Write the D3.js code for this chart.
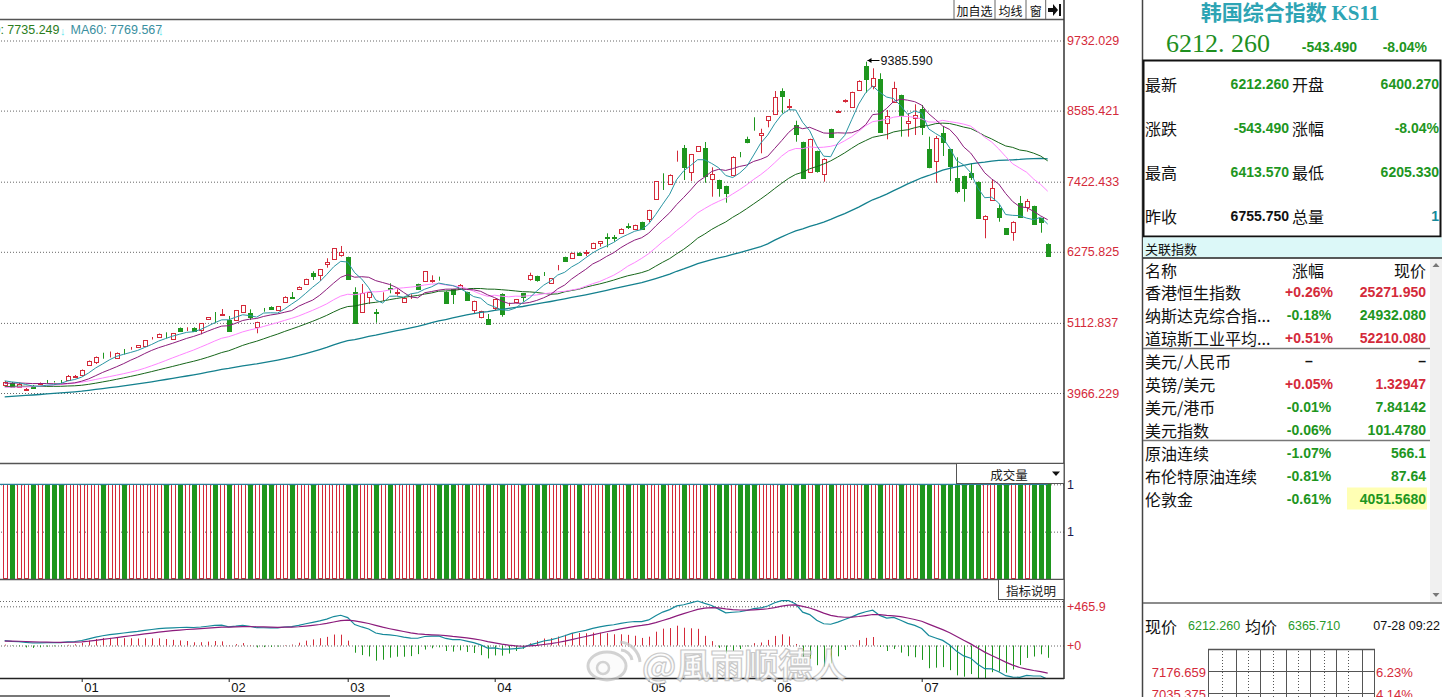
<!DOCTYPE html>
<html>
<head>
<meta charset="utf-8">
<script src="https://cdn.jsdelivr.net/npm/d3@7"></script>
<style>
body { margin: 0; background: #fff; }
svg { display: block; }
text { font-family: "Liberation Sans", Arial, sans-serif; }
.cjk { font-family: "Noto Sans CJK SC", sans-serif; }
.axis .domain { display: none; }
</style>
</head>
<body>
<svg width="1442" height="697"></svg>
<script>
// **** Data ****

// closes before the visible window (only used to warm up MA / MACD)
var priorCloses = [3585, 3602, 3590, 3618, 3640, 3625, 3652, 3668, 3660, 3685,
    3700, 3692, 3715, 3730, 3722, 3745, 3760, 3748, 3772, 3790,
    3785, 3805, 3820, 3812, 3835, 3850, 3842, 3868, 3880, 3875,
    3940, 4010, 4065, 4100, 4130, 4150, 4120, 4135, 4110, 4140,
    4080, 4030, 3990, 3960, 3975, 3940, 3955, 3990, 4010, 4020,
    4050, 4070, 4080, 4105, 4120, 4150, 4175, 4185, 4169];

var opens = [4097, 4130, 4064, 4015, 4081, 4113, 4154, 4154, 4154, 4179,
    4236, 4261, 4424, 4473, 4588, 4580, 4544, 4661, 4702, 4714,
    4740, 4858, 4877, 4923, 4845, 5029, 5008, 5034, 4997, 5177,
    5280, 5242, 5160, 5155, 5291, 5270, 5051, 5329, 5378, 5319,
    5460, 5532, 5667, 5744, 5934, 5891, 6071, 6158, 6223, 6186,
    5618, 5286, 5532, 5291, 5564, 5684, 5602, 5450, 5545, 5749,
    5803, 5798, 5839, 5623, 5662, 5662, 5618, 5324, 5214, 5177,
    5361, 5590, 5417, 5455, 5597, 5836, 5880, 5918, 5770, 6006,
    6191, 6174, 6261, 6256, 6343, 6425, 6518, 6518, 6578, 6690,
    6654, 6763, 6807, 7135, 7537, 7385, 7838, 7969, 7576, 7920,
    7969, 7472, 7450, 7352, 7527, 7892, 8116, 8273, 8191, 8427,
    8525, 8906, 8644, 8345, 8072, 7586, 7925, 7553, 8285, 8567,
    8742, 8649, 8918, 9315, 8993, 9097, 8388, 8731, 8841, 8378,
    8460, 8607, 7952, 7766, 8214, 7952, 7478, 7516, 7570, 7423,
    6807, 7123, 6997, 6660, 6595, 7069, 7004, 7025, 6824, 6400.27];

var highs = [4162, 4146, 4130, 4048, 4097, 4138, 4179, 4162, 4179, 4261,
    4261, 4351, 4498, 4563, 4625, 4645, 4629, 4686, 4719, 4751,
    4833, 4882, 4939, 4959, 4948, 5038, 5041, 5041, 5111, 5209,
    5291, 5340, 5226, 5324, 5406, 5335, 5132, 5357, 5384, 5389,
    5548, 5618, 5711, 5836, 5957, 5995, 6170, 6338, 6371, 6196,
    5695, 5749, 5618, 5340, 5613, 5761, 5662, 5532, 5581, 5754,
    5962, 5891, 5869, 5630, 5667, 5749, 5623, 5476, 5312, 5258,
    5509, 5597, 5443, 5504, 5602, 5934, 5885, 5945, 5847, 6060,
    6196, 6261, 6268, 6305, 6425, 6452, 6578, 6551, 6660, 6742,
    6719, 6768, 6964, 7434, 7560, 7543, 7930, 8023, 7876, 8006,
    8072, 7658, 7455, 7357, 7838, 7908, 8159, 8476, 8289, 8497,
    8906, 8950, 8775, 8420, 8077, 8126, 7930, 7805, 8289, 8595,
    8770, 8895, 9081, 9385.59, 9277, 9196, 8595, 9058, 8846, 8541,
    8689, 8677, 8159, 8170, 8334, 7957, 7822, 7521, 7723, 7429,
    6873, 7450, 7041, 6665, 6775, 7189, 7140, 7030, 6829, 6413.57];

var lows = [4081, 4048, 4048, 4007, 4032, 4105, 4130, 4138, 4130, 4171,
    4228, 4252, 4408, 4441, 4527, 4547, 4539, 4596, 4674, 4710,
    4735, 4841, 4874, 4861, 4841, 4980, 4980, 4975, 4926, 5172,
    5106, 5226, 4980, 5149, 5286, 5160, 4943, 5296, 5335, 5312,
    5455, 5509, 5662, 5738, 5815, 5798, 6016, 6153, 6196, 5819,
    5106, 5280, 5422, 5116, 5471, 5597, 5558, 5443, 5504, 5667,
    5798, 5770, 5803, 5422, 5422, 5656, 5487, 5258, 5188, 5083,
    5324, 5214, 5389, 5450, 5460, 5803, 5787, 5880, 5765, 5973,
    6120, 6170, 6219, 6207, 6338, 6359, 6349, 6441, 6572, 6649,
    6649, 6637, 6763, 7128, 7287, 7380, 7750, 7450, 7434, 7913,
    7406, 7177, 7177, 7079, 7521, 7822, 8051, 8257, 7887, 8312,
    8518, 8541, 8595, 8077, 7472, 7581, 7570, 7423, 8154, 8551,
    8715, 8644, 8911, 8878, 8934, 8235, 8116, 8726, 8159, 8159,
    8186, 8186, 7642, 7406, 7843, 7434, 7233, 7095, 7450, 6829,
    6497, 7118, 6768, 6556, 6457, 6834, 6932, 6719, 6588, 6205.33];

var closes = [4146, 4064, 4113, 4032, 4048, 4130, 4146, 4146, 4146, 4252,
    4244, 4342, 4490, 4555, 4580, 4588, 4620, 4653, 4710, 4746,
    4828, 4866, 4931, 4915, 4943, 4985, 5018, 4980, 5106, 5204,
    5270, 5254, 4985, 5319, 5401, 5204, 5128, 5319, 5340, 5384,
    5541, 5523, 5705, 5831, 5885, 5990, 6114, 6333, 6277, 5826,
    5116, 5607, 5613, 5280, 5574, 5672, 5613, 5525, 5553, 5672,
    5957, 5810, 5831, 5438, 5586, 5728, 5492, 5471, 5307, 5090,
    5504, 5263, 5427, 5499, 5532, 5896, 5815, 5908, 5842, 6016,
    6125, 6256, 6223, 6268, 6420, 6448, 6506, 6506, 6654, 6682,
    6714, 6644, 6960, 7429, 7527, 7527, 7848, 7668, 7871, 8001,
    7516, 7548, 7315, 7243, 7831, 7884, 8072, 8263, 8214, 8492,
    8803, 8829, 8656, 8198, 7478, 8121, 7602, 7799, 8159, 8579,
    8754, 8890, 9075, 9097, 9124, 8240, 8497, 8950, 8513, 8415,
    8513, 8322, 7668, 8132, 8077, 7679, 7275, 7324, 7504, 6834,
    6866, 7315, 6850, 6562, 6768, 6840, 7112, 6726, 6755.75, 6212.26];

// index volume is shown as 1 every day
var volumes = [1, 1, 1, 1, 1, 1, 1, 1, 1, 1, 1, 1, 1, 1, 1, 1, 1, 1, 1, 1, 1, 1, 1, 1, 1,
    1, 1, 1, 1, 1, 1, 1, 1, 1, 1, 1, 1, 1, 1, 1, 1, 1, 1, 1, 1, 1, 1, 1, 1, 1,
    1, 1, 1, 1, 1, 1, 1, 1, 1, 1, 1, 1, 1, 1, 1, 1, 1, 1, 1, 1, 1, 1, 1, 1, 1,
    1, 1, 1, 1, 1, 1, 1, 1, 1, 1, 1, 1, 1, 1, 1, 1, 1, 1, 1, 1, 1, 1, 1, 1, 1,
    1, 1, 1, 1, 1, 1, 1, 1, 1, 1, 1, 1, 1, 1, 1, 1, 1, 1, 1, 1, 1, 1, 1, 1, 1,
    1, 1, 1, 1, 1, 1, 1, 1, 1, 1, 1, 1, 1, 1, 1, 1, 1, 1, 1, 1, 1, 1, 1, 1, 1];

var priceTicks = [9732.029, 8585.421, 7422.433, 6275.825, 5112.837, 3966.229];
var priceDomain = [3966.229, 9732.029];
var monthIdx = [11, 32, 49, 70, 92, 110, 131];
var monthLabels = ['01', '02', '03', '04', '05', '06', '07'];
var maPeriods = [60, 30, 20, 10, 5];
var maLegend = ['MA30: 7735.249', 'MA60: 7769.567'];
var volTicks = [1, 0.5];
var volTickLabels = ['1', '1'];
var macdTicks = [465.9, 0];
var macdTop = 530;

var quoteNames = ['最新', '涨跌', '最高', '昨收'];
var quoteVals = ['6212.260', '-543.490', '6413.570', '6755.750'];
var quoteNames2 = ['开盘', '涨幅', '最低', '总量'];
var quoteVals2 = ['6400.270', '-8.04%', '6205.330', '1'];
var avgPrice = '6365.710';
var quoteTime = '07-28 09:22';

var relNames = ['香港恒生指数', '纳斯达克综合指...', '道琼斯工业平均...', '美元/人民币', '英镑/美元',
    '美元/港币', '美元指数', '原油连续', '布伦特原油连续', '伦敦金'];
var relChanges = ['+0.26%', '-0.18%', '+0.51%', '–', '+0.05%', '-0.01%', '-0.06%', '-1.07%', '-0.81%', '-0.61%'];
var relPrices = ['25271.950', '24932.080', '52210.080', '–', '1.32947', '7.84142', '101.4780', '566.1', '87.64', '4051.5680'];

var intradayPrices = ['7176.659', '7035.375'];
var intradayPcts = ['6.23%', '4.14%'];

// **** Colours ****
var RED = '#d42a3a', GREEN = '#1e961e', GRID = '#555';
var maColors = {5: '#2a95a3', 10: '#8c1c7c', 20: '#ff84ff', 30: '#17661a', 60: '#14808e'};

// **** Indicators ****
var allCloses = priorCloses.concat(closes);
var off = priorCloses.length;

function sma(arr, n) {
    return arr.map(function(v, i) {
        var s = Math.max(0, i - n + 1);
        return d3.mean(arr.slice(s, i + 1));
    });
}

function ema(arr, n) {
    var out = [], prev = arr[0];
    arr.forEach(function(v, i) {
        prev = i === 0 ? v : (2 * v + (n - 1) * prev) / (n + 1);
        out.push(prev);
    });
    return out;
}

var e12 = ema(allCloses, 12), e26 = ema(allCloses, 26);
var difAll = allCloses.map(function(v, i) { return e12[i] - e26[i]; });
var deaAll = ema(difAll, 9);
var dif = difAll.slice(off), dea = deaAll.slice(off);
var macd = dif.map(function(d, i) { return 2 * (d - dea[i]); });

var rows = closes.map(function(c, i) {
    return {i: i, o: opens[i], h: highs[i], l: lows[i], c: c, v: volumes[i], m: macd[i]};
});

// **** Scales ****
var xScale = d3.scaleLinear().domain([0, closes.length - 1]).range([4.7, 1047.7]);
var priceScale = d3.scaleLinear().domain(priceDomain).range([393, 40.5]);
var volScale = d3.scaleLinear().domain([0, 1]).range([579, 484.3]);
var macdScale = d3.scaleLinear().domain([0, 465.9]).range([645.5, 606.3]);

function cx(i) { return Math.round(xScale(i)) + 0.5; }
function px(v) { return Math.round(priceScale(v)) + 0.5; }

var svg = d3.select('svg');
var defs = svg.append('defs');
function clip(id, x, y, w, h) {
    defs.append('clipPath').attr('id', id).append('rect')
        .attr('x', x).attr('y', y).attr('width', w).attr('height', h);
}
clip('clipMain', 0, 20, 1064, 443);
clip('clipVol', 0, 464, 1064, 115);
clip('clipMacd', 0, 580, 1064, 98);

// **** Frames ****
function hline(y, x1, x2, w, c) {
    return svg.append('line').attr('x1', x1).attr('x2', x2).attr('y1', y).attr('y2', y)
        .attr('stroke', c || GRID).attr('stroke-width', w || 1);
}
function vline(x, y1, y2, w, c) {
    return svg.append('line').attr('x1', x).attr('x2', x).attr('y1', y1).attr('y2', y2)
        .attr('stroke', c || GRID).attr('stroke-width', w || 1);
}

// **** Price axis + grid ****
var pAxis = svg.append('g').attr('class', 'axis')
    .attr('transform', 'translate(1064,0)')
    .call(d3.axisRight(priceScale).tickValues(priceTicks).tickSize(-1064).tickPadding(3)
        .tickFormat(d3.format('.3f')));
pAxis.selectAll('line').attr('stroke', '#666').attr('stroke-dasharray', '1,2');
pAxis.selectAll('text').attr('fill', RED).style('font-size', '12.5px');

// **** Volume axis ****
var vAxis = svg.append('g').attr('class', 'axis')
    .attr('transform', 'translate(1064,0)')
    .call(d3.axisRight(volScale).tickValues(volTicks).tickSize(-1064).tickPadding(3)
        .tickFormat(function(d, i) { return volTickLabels[i]; }));
vAxis.selectAll('line').attr('stroke', '#666').attr('stroke-dasharray', '1,2');
vAxis.selectAll('text').attr('fill', '#1a1a50').style('font-size', '12.5px');

// **** MACD axis ****
var mAxis = svg.append('g').attr('class', 'axis')
    .attr('transform', 'translate(1064,0)')
    .call(d3.axisRight(macdScale).tickValues(macdTicks).tickSize(-1064).tickPadding(3)
        .tickFormat(function(d) { return '+' + d; }));
mAxis.selectAll('line').attr('stroke', '#666').attr('stroke-dasharray', '1,2');
mAxis.selectAll('text').attr('fill', RED).style('font-size', '12.5px');
hline(Math.round(macdScale(macdTop)) + 0.5, 0, 1064, 1, '#666').attr('stroke-dasharray', '1,2');

// **** Candles ****
var cg = svg.append('g').attr('clip-path', 'url(#clipMain)');
var candle = cg.selectAll('g').data(rows).enter().append('g');
candle.append('line')
    .attr('x1', function(d) { return cx(d.i); })
    .attr('x2', function(d) { return cx(d.i); })
    .attr('y1', function(d) { return priceScale(d.h); })
    .attr('y2', function(d) { return priceScale(d.l); })
    .attr('stroke', function(d) { return d.c >= d.o ? RED : GREEN; });
candle.append('rect')
    .attr('x', function(d) { return cx(d.i) - 2; })
    .attr('width', 4)
    .attr('y', function(d) { return px(Math.max(d.o, d.c)); })
    .attr('height', function(d) { return px(Math.min(d.o, d.c)) - px(Math.max(d.o, d.c)); })
    .attr('fill', function(d) { return d.c >= d.o ? '#fff' : GREEN; })
    .attr('stroke', function(d) { return d.c >= d.o ? RED : GREEN; })
    .attr('shape-rendering', 'crispEdges');

// **** Moving averages ****
maPeriods.forEach(function(n) {
    var ma = sma(allCloses, n).slice(off);
    cg.append('path')
        .datum(ma)
        .attr('fill', 'none')
        .attr('stroke', maColors[n])
        .attr('stroke-width', n === 60 ? 1.3 : 1)
        .attr('d', d3.line()
            .x(function(d, i) { return xScale(i); })
            .y(function(d) { return priceScale(d); }));
});

// highest point marker
var hiIdx = d3.maxIndex(highs);
var hx = cx(hiIdx), hy = Math.round(priceScale(highs[hiIdx])) - 1.5;
svg.append('line').attr('x1', hx + 1).attr('x2', hx + 13).attr('y1', hy).attr('y2', hy).attr('stroke', '#000');
svg.append('path').attr('d', 'M' + (hx + 1) + ',' + hy + 'l4,-2.5v5z').attr('fill', '#000');
svg.append('text').attr('x', hx + 14).attr('y', hy).attr('dy', '0.35em')
    .style('font-size', '12.5px').attr('fill', '#111')
    .text(d3.format('.3f')(highs[hiIdx]));

// MA legend
svg.append('text').attr('x', 59.5).attr('y', 34).attr('text-anchor', 'end')
    .style('font-size', '12.5px').attr('fill', '#2b7d1c').text(maLegend[0]);
svg.append('text').attr('x', 60).attr('y', 35).style('font-size', '11px').attr('fill', '#5ee6ee').text('↓');
svg.append('text').attr('x', 70.5).attr('y', 34)
    .style('font-size', '12.5px').attr('fill', '#3a8fa0').text(maLegend[1]);
svg.append('text').attr('x', 158).attr('y', 35).style('font-size', '11px').attr('fill', '#5ee6ee').text('↓');

// **** Volume ****
var vg = svg.append('g').attr('clip-path', 'url(#clipVol)');
vg.selectAll('rect').data(rows).enter().append('rect')
    .attr('x', function(d) { return cx(d.i) - 2; })
    .attr('width', 4)
    .attr('y', function(d) { return Math.round(volScale(d.v)) + 0.5; })
    .attr('height', function(d) { return 578.5 - (Math.round(volScale(d.v)) + 0.5); })
    .attr('fill', function(d) { return d.c >= d.o ? '#fff' : GREEN; })
    .attr('stroke', function(d) { return d.c >= d.o ? RED : GREEN; })
    .attr('shape-rendering', 'crispEdges');
vg.append('path').datum(sma(volumes, 5))
    .attr('fill', 'none').attr('stroke', '#2a7f9a').attr('stroke-width', 1.2)
    .attr('d', d3.line().x(function(d, i) { return i === 0 ? 0 : xScale(i); }).y(function(d) { return volScale(d); }));

// **** MACD ****
var mg = svg.append('g').attr('clip-path', 'url(#clipMacd)');
mg.selectAll('line').data(rows).enter().append('line')
    .attr('x1', function(d) { return cx(d.i); })
    .attr('x2', function(d) { return cx(d.i); })
    .attr('y1', macdScale(0))
    .attr('y2', function(d) { return macdScale(d.m); })
    .attr('stroke', function(d) { return d.m >= 0 ? RED : GREEN; });
[[dif, '#16899a'], [dea, '#8c1c7c']].forEach(function(s) {
    mg.append('path').datum(s[0])
        .attr('fill', 'none').attr('stroke', s[1]).attr('stroke-width', 1.2)
        .attr('d', d3.line().x(function(d, i) { return xScale(i); }).y(function(d) { return macdScale(d); }));
});

// **** Time axis ****
var tAxis = svg.append('g').attr('class', 'axis')
    .attr('transform', 'translate(0,678)')
    .call(d3.axisBottom(xScale).tickValues(monthIdx).tickSize(4)
        .tickFormat(function(d, i) { return monthLabels[i]; }));
tAxis.selectAll('line').attr('stroke', '#222');
tAxis.selectAll('text').attr('text-anchor', 'start').attr('x', 2).attr('y', 5)
    .attr('fill', '#111').style('font-size', '13px');

// panel borders
hline(19.5, 0, 1064, 1.5);
hline(463.5, 0, 1064, 1.5);
hline(579.5, 0, 1064, 1.5);
hline(678.5, 0, 1064, 1.5, '#222');
vline(1064, 0, 679, 1.5, '#333');
hline(696, 0, 390, 2, '#777');

// toolbar
[[954, 995, '加自选'], [995, 1026, '均线'], [1026, 1045.7, '窗']].forEach(function(b) {
    vline(b[0], 0, 19, 1, '#666');
    svg.append('text').attr('class', 'cjk').attr('x', (b[0] + b[1]) / 2).attr('y', 10)
        .attr('text-anchor', 'middle').attr('dominant-baseline', 'central')
        .style('font-size', '12px').attr('fill', '#111').text(b[2]);
});
vline(1045.7, 0, 19, 1, '#666');
svg.append('path').attr('d', 'M1048,8h5v-4l5,6l-5,6v-4h-5z').attr('fill', '#111');
svg.append('rect').attr('x', 1059).attr('y', 4).attr('width', 2).attr('height', 12).attr('fill', '#111');

// panel tabs
svg.append('rect').attr('x', 956.5).attr('y', 463.5).attr('width', 107.5).attr('height', 20)
    .attr('fill', '#fff').attr('stroke', GRID);
svg.append('text').attr('class', 'cjk').attr('x', 1009).attr('y', 474)
    .attr('text-anchor', 'middle').attr('dominant-baseline', 'central')
    .style('font-size', '12.5px').attr('fill', '#222').text('成交量');
svg.append('path').attr('d', 'M1052,471.5h8l-4,4.5z').attr('fill', '#111');
svg.append('rect').attr('x', 998.5).attr('y', 579.5).attr('width', 65.5).attr('height', 20)
    .attr('fill', '#fff').attr('stroke', GRID);
svg.append('text').attr('class', 'cjk').attr('x', 1031).attr('y', 590)
    .attr('text-anchor', 'middle').attr('dominant-baseline', 'central')
    .style('font-size', '12.5px').attr('fill', '#222').text('指标说明');

// watermark
var wm = svg.append('g').attr('opacity', 0.75);
wm.append('ellipse').attr('cx', 607).attr('cy', 666).attr('rx', 19).attr('ry', 14)
    .attr('fill', '#fafafa').attr('stroke', '#c4c4c4').attr('stroke-width', 3);
wm.append('circle').attr('cx', 603).attr('cy', 668).attr('r', 6).attr('fill', 'none')
    .attr('stroke', '#c4c4c4').attr('stroke-width', 2.5);
wm.append('path').attr('d', 'M620,642 A22,22 0 0 1 640,662 M621,650 A12,12 0 0 1 632,660')
    .attr('fill', 'none').attr('stroke', '#c4c4c4').attr('stroke-width', 3);
wm.append('text').attr('class', 'cjk').attr('x', 642).attr('y', 678)
    .style('font-size', '34px').style('font-weight', 'bold')
    .attr('fill', '#fbfbfb').attr('stroke', '#b8b8b8').attr('stroke-width', 1.2)
    .text('@風雨顺德人');

// **** Right panel ****
vline(1142.5, 0, 697, 1.5, '#444');
svg.append('text').attr('x', 1290).attr('y', 20).attr('text-anchor', 'middle')
    .style('font-size', '21px').style('font-weight', 'bold').attr('fill', '#2ea4b4')
    .call(function(t) {
        t.append('tspan').attr('class', 'cjk').text('韩国综合指数 ');
        t.append('tspan').style('font-family', '"Liberation Serif", serif').text('KS11');
    });
svg.append('text').attr('x', 1166).attr('y', 52)
    .style('font-family', '"Liberation Serif", serif').style('font-size', '26px')
    .attr('fill', '#1f8f1f').text('6212. 260');
svg.append('text').attr('x', 1357).attr('y', 51.5).attr('text-anchor', 'end')
    .style('font-size', '14px').style('font-weight', 'bold').attr('fill', GREEN).text(quoteVals[1]);
svg.append('text').attr('x', 1427).attr('y', 51.5).attr('text-anchor', 'end')
    .style('font-size', '14px').style('font-weight', 'bold').attr('fill', GREEN).text(quoteVals2[1]);

svg.append('rect').attr('x', 1143.5).attr('y', 60.5).attr('width', 297).attr('height', 176)
    .attr('fill', 'none').attr('stroke', '#111').attr('stroke-width', 2);

var qColor1 = [GREEN, GREEN, GREEN, '#111'];
var qColor2 = [GREEN, GREEN, GREEN, '#16899a'];
quoteNames.forEach(function(n, i) {
    var y = 83.5 + 44 * i;
    svg.append('text').attr('class', 'cjk').attr('x', 1145).attr('y', y).attr('dominant-baseline', 'central')
        .style('font-size', '16px').attr('fill', '#111').text(n);
    svg.append('text').attr('x', 1289).attr('y', y).attr('dominant-baseline', 'central').attr('text-anchor', 'end')
        .style('font-size', '14px').style('font-weight', 'bold').attr('fill', qColor1[i]).text(quoteVals[i]);
    svg.append('text').attr('class', 'cjk').attr('x', 1292).attr('y', y).attr('dominant-baseline', 'central')
        .style('font-size', '16px').attr('fill', '#111').text(quoteNames2[i]);
    svg.append('text').attr('x', 1439).attr('y', y).attr('dominant-baseline', 'central').attr('text-anchor', 'end')
        .style('font-size', '14px').style('font-weight', 'bold').attr('fill', qColor2[i]).text(quoteVals2[i]);
});

// related indices
svg.append('rect').attr('x', 1143).attr('y', 237.5).attr('width', 299).attr('height', 20).attr('fill', '#dcf8f8');
hline(258, 1143, 1442, 1.5, '#222');
svg.append('text').attr('class', 'cjk').attr('x', 1145).attr('y', 248).attr('dominant-baseline', 'central')
    .style('font-size', '13px').attr('fill', '#111').text('关联指数');
svg.append('rect').attr('x', 1430).attr('y', 259).attr('width', 12).attr('height', 343).attr('fill', '#f0f0f0');
svg.append('path').attr('d', 'M1432.5,267h7l-3.5,-4z').attr('fill', '#777');
svg.append('path').attr('d', 'M1432.5,593h7l-3.5,4z').attr('fill', '#777');

[['名称', 1145, 'start'], ['涨幅', 1308, 'middle'], ['现价', 1426, 'end']].forEach(function(h) {
    svg.append('text').attr('class', 'cjk').attr('x', h[1]).attr('y', 269.5)
        .attr('dominant-baseline', 'central').attr('text-anchor', h[2])
        .style('font-size', '16px').attr('fill', '#111').text(h[0]);
});

svg.append('rect').attr('x', 1347).attr('y', 487.5).attr('width', 80).attr('height', 22).attr('fill', '#ffffb4');

function relColor(s) { return s[0] === '+' ? RED : (s[0] === '-' ? GREEN : '#111'); }
relNames.forEach(function(n, i) {
    var y = 291.5 + 23 * i;
    var col = relColor(relChanges[i]);
    svg.append('text').attr('class', 'cjk').attr('x', 1145).attr('y', y).attr('dominant-baseline', 'central')
        .style('font-size', '16px').attr('fill', '#111').text(n);
    svg.append('text').attr('x', 1309).attr('y', y).attr('dominant-baseline', 'central').attr('text-anchor', 'middle')
        .style('font-size', '14px').style('font-weight', 'bold').attr('fill', col).text(relChanges[i]);
    svg.append('text').attr('x', 1426).attr('y', y).attr('dominant-baseline', 'central').attr('text-anchor', 'end')
        .style('font-size', '14px').style('font-weight', 'bold').attr('fill', col).text(relPrices[i]);
});
hline(348.5, 1143, 1430, 1.5, '#777');
hline(440.5, 1143, 1430, 1.5, '#777');
hline(603, 1143, 1442, 1.5, '#666');

// intraday header
svg.append('text').attr('class', 'cjk').attr('x', 1145).attr('y', 626).attr('dominant-baseline', 'central')
    .style('font-size', '16px').attr('fill', '#111').text('现价');
svg.append('text').attr('x', 1188).attr('y', 626).attr('dominant-baseline', 'central')
    .style('font-size', '12.5px').attr('fill', '#2a9a2a').text(quoteVals[0]);
svg.append('text').attr('class', 'cjk').attr('x', 1245).attr('y', 626).attr('dominant-baseline', 'central')
    .style('font-size', '16px').attr('fill', '#111').text('均价');
svg.append('text').attr('x', 1288).attr('y', 626).attr('dominant-baseline', 'central')
    .style('font-size', '12.5px').attr('fill', '#2a9a2a').text(avgPrice);
svg.append('text').attr('x', 1440).attr('y', 626).attr('dominant-baseline', 'central').attr('text-anchor', 'end')
    .style('font-size', '12.5px').attr('fill', '#111').text(quoteTime);

// intraday grid
[1222, 1248, 1273, 1298, 1324, 1348].forEach(function(x) {
    svg.append('line').attr('x1', x + 0.5).attr('x2', x + 0.5).attr('y1', 651).attr('y2', 697)
        .attr('stroke', '#555').attr('stroke-dasharray', '1,2');
});
[1208, 1236, 1260, 1286, 1310, 1336, 1362, 1374].forEach(function(x) { vline(x + 0.5, 649, 697, 1, '#555'); });
hline(649.5, 1208, 1375, 1.5, '#555');
hline(671.5, 1208, 1375, 1, '#555');
hline(693.5, 1208, 1375, 1, '#555');
intradayPrices.forEach(function(p, i) {
    svg.append('text').attr('x', 1206).attr('y', 672 + 22.5 * i).attr('dominant-baseline', 'central')
        .attr('text-anchor', 'end').style('font-size', '13px').attr('fill', RED).text(p);
    svg.append('text').attr('x', 1376).attr('y', 672 + 22.5 * i).attr('dominant-baseline', 'central')
        .style('font-size', '13px').attr('fill', RED).text(intradayPcts[i]);
});
</script>
</body>
</html>
